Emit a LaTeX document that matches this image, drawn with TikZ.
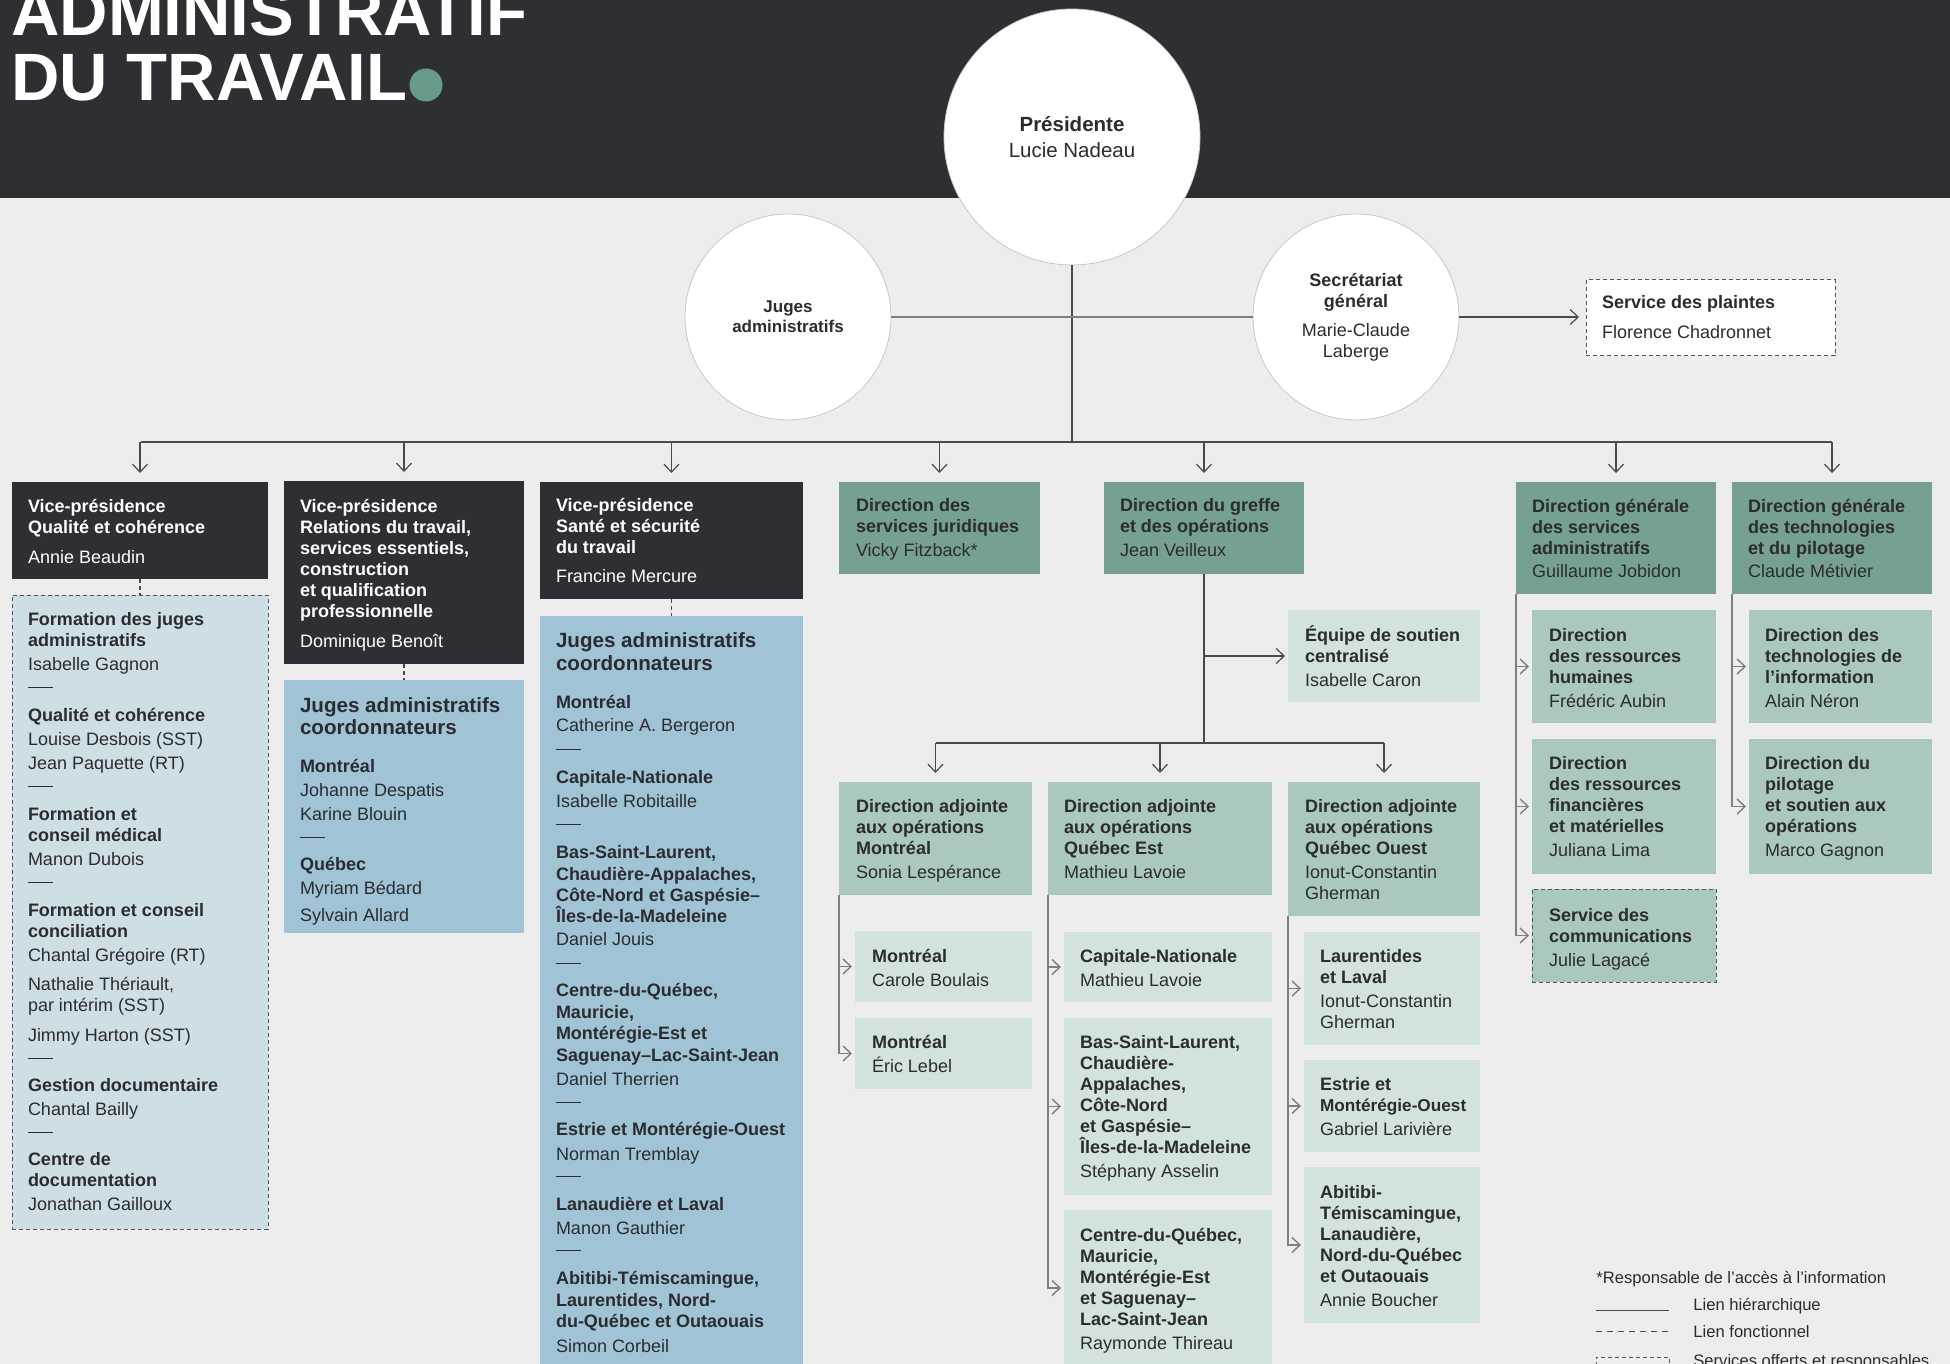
\documentclass[tikz,border=0pt]{standalone}
\usepackage{fontspec}
\setmainfont{Liberation Sans}
\usetikzlibrary{arrows.meta,calc}
\definecolor{hdr}{HTML}{2E2F33}
\definecolor{bg}{HTML}{EDEDED}
\definecolor{dark}{HTML}{2E2F34}
\definecolor{gmid}{HTML}{76A092}
\definecolor{glt}{HTML}{ABC8BE}
\definecolor{gxl}{HTML}{D2E3DD}
\definecolor{bmid}{HTML}{A0C4D6}
\definecolor{blt}{HTML}{CDDEE5}
\definecolor{ink}{HTML}{2B2C30}
\definecolor{dotc}{HTML}{689A8C}
\definecolor{lnc}{HTML}{4A4A4A}
\definecolor{lnb}{HTML}{7F7F7F}
\definecolor{dsc}{HTML}{555555}
\definecolor{circline}{HTML}{C8C8C8}
\newcommand\sk{\\[1.5pt]}
\newcommand\st{\rule{0pt}{8.5pt}}
\newcommand\dl{\rule[3pt]{12.5pt}{0.6pt}}
\newcommand\bx[6]{\node[boxbase,#6,minimum width={(#4-#2)/2},minimum height={(#5-#3)/2}] (#1) at (#2,#3) {};}
\tikzset{
  boxbase/.style={rectangle, inner sep=0pt, outer sep=0pt, anchor=north west},
  dk/.style={fill=dark}, gm/.style={fill=gmid}, gl/.style={fill=glt}, gx/.style={fill=gxl},
  bm/.style={fill=bmid}, bl/.style={fill=blt},
  dsh/.style={draw=dsc, line width=0.5pt, dash pattern=on 2pt off 1.5pt},
  txt/.style={anchor=north west, yshift=8.5pt, align=left, inner sep=0pt, outer sep=0pt, text=ink, font=\fontsize{9}{10.5}\selectfont},
  wtxt/.style={txt, text=white},
  circ/.style={circle, fill=white, draw=circline, line width=0.4pt, inner sep=0pt, align=center, text=ink},
  ln/.style={draw=lnc, line width=0.6pt},
  lnd/.style={ln, dash pattern=on 2pt off 1.5pt},
  arr/.style={ln, -{Straight Barb[length=4pt,width=7.5pt]}, shorten >=4.5pt},
  harr/.style={ln, draw=lnb, line width=0.7pt, -{Straight Barb[length=4pt,width=7.5pt]}, shorten >=1.5pt},
  lg/.style={anchor=base west, inner sep=0pt, text=ink, font=\fontsize{8.3}{10}\selectfont},
  ttl/.style={anchor=base west, inner sep=0pt, text=white, font=\fontsize{33.5}{34}\selectfont\bfseries}
}
\begin{document}
\begin{tikzpicture}[x=0.5pt,y=-0.5pt]
\path[use as bounding box] (0,0) rectangle (1950,1364);
\fill[bg] (0,0) rectangle (1950,1364);
\fill[hdr] (0,0) rectangle (1950,198);

% title
\node[ttl] (t1) at (11,36) {ADMINISTRATIF};
\node[ttl] (t2) at (11,101) {DU TRAVAIL};
\node[circle, fill=dotc, minimum size=16.5pt, inner sep=0pt] (dot) at (426,85) {};

% circles
\node[circ, minimum size=128pt, font=\fontsize{10.25}{13}\selectfont] (pres) at (1072,137) {\textbf{Présidente}\\Lucie Nadeau};
\node[circ, minimum size=103pt, font=\fontsize{8.5}{10}\selectfont] (juges) at (788,317) {\textbf{Juges}\\\textbf{administratifs}};
\node[circ, minimum size=103pt, font=\fontsize{9}{10.5}\selectfont] (sec) at (1356,317) {\textbf{Secrétariat}\\\textbf{général}\\[4pt]Marie-Claude\\Laberge};

% boxes
\bx{vpq}{12}{482}{268}{579}{dk}
\bx{vpr}{284}{481}{524}{664}{dk}
\bx{vps}{540}{482}{803}{599}{dk}
\bx{dsj}{839}{482}{1040}{574}{gm}
\bx{dgo}{1104}{482}{1304}{574}{gm}
\bx{dgs}{1516}{482}{1716}{594}{gm}
\bx{dgt}{1732}{482}{1932}{594}{gm}
\bx{plaintes}{1586}{280}{1835}{356}{dsh, fill=white}
\bx{fjbox}{12}{595}{268}{1229}{bl, dsh}
\bx{jac1}{284}{680}{524}{933}{bm}
\bx{jac2}{540}{616}{803}{1370}{bm}
\bx{equipe}{1288}{610}{1480}{702}{gx}
\bx{dam}{839}{782}{1032}{895}{gl}
\bx{daqe}{1048}{782}{1272}{895}{gl}
\bx{daqo}{1288}{782}{1480}{916}{gl}
\bx{mtla}{855}{931}{1032}{1002}{gx}
\bx{mtlb}{855}{1018}{1032}{1089}{gx}
\bx{capn}{1064}{932}{1272}{1002}{gx}
\bx{bsl}{1064}{1018}{1272}{1195}{gx}
\bx{cdq}{1064}{1210}{1272}{1366}{gx}
\bx{lau}{1304}{932}{1480}{1045}{gx}
\bx{est}{1304}{1060}{1480}{1152}{gx}
\bx{abi}{1304}{1167}{1480}{1323}{gx}
\bx{rh}{1532}{610}{1716}{723}{gl}
\bx{rf}{1532}{739}{1716}{874}{gl}
\bx{sc}{1532}{889}{1716}{982}{gl, dsh}
\bx{ti}{1749}{610}{1932}{723}{gl}
\bx{pil}{1749}{739}{1932}{874}{gl}

% connectors top
\coordinate (busL) at (141,442);
\coordinate (busR) at (1832,442);
\draw[ln] (pres.south) -- (pres.south |- busL);
\draw[ln] (busL) -- (busR);
\draw[ln, draw=lnb, line width=1pt] (juges.east) -- (sec.west);
\foreach \n in {vpq,vpr,vps,dsj,dgo,dgs,dgt} \draw[arr] (\n.north |- busL) -- (\n.north);
\draw[arr, shorten >=3.5pt] (sec.east) -- (sec.east -| plaintes.west);
\draw[lnd] (vpq.south) -- (fjbox.north);
\draw[lnd] (vpr.south) -- (jac1.north);
\draw[lnd] (vps.south) -- (jac2.north);

% greffe
\coordinate (gbus) at (1204,743);
\draw[ln] (dgo.south) -- (dgo.south |- gbus);
\draw[arr, shorten >=1.5pt] (dgo.south |- equipe.west) -- (equipe.west);
\draw[ln] (dam.north |- gbus) -- (daqo.north |- gbus);
\foreach \n in {dam,daqe,daqo} \draw[arr] (\n.north |- gbus) -- (\n.north);

% branches
\foreach \n in {mtla,mtlb} \draw[harr] (dam.south west) |- (\n.west);
\foreach \n in {capn,bsl,cdq} \draw[harr] (daqe.south west) |- (\n.west);
\foreach \n in {lau,est,abi} \draw[harr] (daqo.south west) |- (\n.west);
\foreach \n in {rh,rf,sc} \draw[harr] (dgs.south west) |- (\n.west);
\foreach \n in {ti,pil} \draw[harr] (dgt.south west) |- (\n.west);

% texts
\node[wtxt] (vpq-t) at (28,512) {\st\textbf{Vice-présidence}\\\textbf{Qualité et cohérence}\\[4.5pt]Annie Beaudin};
\node[wtxt] (vpr-t) at (300,512) {\st\textbf{Vice-présidence}\\\textbf{Relations du travail,}\\\textbf{services essentiels,}\\\textbf{construction}\\\textbf{et qualification}\\\textbf{professionnelle}\\[4.5pt]Dominique Benoît};
\node[wtxt] (vps-t) at (556,511) {\st\textbf{Vice-présidence}\\\textbf{Santé et sécurité}\\\textbf{du travail}\\[4pt]Francine Mercure};
\node[txt] (dsj-t) at (856,511) {\st\textbf{Direction des}\\\textbf{services juridiques}\sk Vicky Fitzback*};
\node[txt] (dgo-t) at (1120,511) {\st\textbf{Direction du greffe}\\\textbf{et des opérations}\sk Jean Veilleux};
\node[txt] (dgs-t) at (1532,512) {\st\textbf{Direction générale}\\\textbf{des services}\\\textbf{administratifs}\\[1pt]Guillaume Jobidon};
\node[txt] (dgt-t) at (1748,512) {\st\textbf{Direction générale}\\\textbf{des technologies}\\\textbf{et du pilotage}\\[1pt]Claude Métivier};
\node[txt] (plaintes-t) at (1602,309) {\st\textbf{Service des plaintes}\\[4.5pt]Florence Chadronnet};
\node[txt] (equipe-t) at (1305,641) {\st\textbf{Équipe de soutien}\\\textbf{centralisé}\sk Isabelle Caron};
\node[txt] (dam-t) at (856,812) {\st\textbf{Direction adjointe}\\\textbf{aux opérations}\\\textbf{Montréal}\sk Sonia Lespérance};
\node[txt] (daqe-t) at (1064,812) {\st\textbf{Direction adjointe}\\\textbf{aux opérations}\\\textbf{Québec Est}\sk Mathieu Lavoie};
\node[txt] (daqo-t) at (1305,812) {\st\textbf{Direction adjointe}\\\textbf{aux opérations}\\\textbf{Québec Ouest}\sk Ionut-Constantin\\Gherman};
\node[txt] (mtla-t) at (872,962) {\st\textbf{Montréal}\sk Carole Boulais};
\node[txt] (mtlb-t) at (872,1048) {\st\textbf{Montréal}\sk Éric Lebel};
\node[txt] (capn-t) at (1080,962) {\st\textbf{Capitale-Nationale}\sk Mathieu Lavoie};
\node[txt] (bsl-t) at (1080,1048) {\st\textbf{Bas-Saint-Laurent,}\\\textbf{Chaudière-}\\\textbf{Appalaches,}\\\textbf{Côte-Nord}\\\textbf{et Gaspésie–}\\\textbf{Îles-de-la-Madeleine}\sk Stéphany Asselin};
\node[txt] (cdq-t) at (1080,1241) {\st\textbf{Centre-du-Québec,}\\\textbf{Mauricie,}\\\textbf{Montérégie-Est}\\\textbf{et Saguenay–}\\\textbf{Lac-Saint-Jean}\sk Raymonde Thireau};
\node[txt] (lau-t) at (1320,962) {\st\textbf{Laurentides}\\\textbf{et Laval}\sk Ionut-Constantin\\Gherman};
\node[txt] (est-t) at (1320,1090) {\st\textbf{Estrie et}\\{\fontsize{8.6}{10.5}\selectfont\textbf{Montérégie-Ouest}}\sk Gabriel Larivière};
\node[txt] (abi-t) at (1320,1198) {\st\textbf{Abitibi-}\\\textbf{Témiscamingue,}\\\textbf{Lanaudière,}\\\textbf{Nord-du-Québec}\\\textbf{et Outaouais}\sk Annie Boucher};
\node[txt] (rh-t) at (1549,641) {\st\textbf{Direction}\\\textbf{des ressources}\\\textbf{humaines}\sk Frédéric Aubin};
\node[txt] (ti-t) at (1765,641) {\st\textbf{Direction des}\\\textbf{technologies de}\\\textbf{l’information}\sk Alain Néron};
\node[txt] (rf-t) at (1549,769) {\st\textbf{Direction}\\\textbf{des ressources}\\\textbf{financières}\\\textbf{et matérielles}\sk Juliana Lima};
\node[txt] (pil-t) at (1765,769) {\st\textbf{Direction du}\\\textbf{pilotage}\\\textbf{et soutien aux}\\\textbf{opérations}\sk Marco Gagnon};
\node[txt] (sc-t) at (1549,921) {\st\textbf{Service des}\\\textbf{communications}\sk Julie Lagacé};

\node[txt] (fj-t) at (28,625) {\st\textbf{Formation des juges}\\\textbf{administratifs}\sk Isabelle Gagnon\sk\dl\\[3pt]%
\textbf{Qualité et cohérence}\sk Louise Desbois (SST)\sk Jean Paquette (RT)\sk\dl\\[3pt]%
\textbf{Formation et}\\\textbf{conseil médical}\sk Manon Dubois\sk\dl\\[3pt]%
\textbf{Formation et conseil}\\\textbf{conciliation}\sk Chantal Grégoire (RT)\\[4pt]Nathalie Thériault,\\par intérim (SST)\\[4.5pt]Jimmy Harton (SST)\sk\dl\\[2.5pt]%
\textbf{Gestion documentaire}\sk Chantal Bailly\sk\dl\\[2.5pt]%
\textbf{Centre de}\\\textbf{documentation}\sk Jonathan Gailloux};

\node[txt] (jac1-t) at (300,712) {\st{\fontsize{10.3}{11}\selectfont\textbf{Juges administratifs}}\\[0.5pt]{\fontsize{10.3}{11}\selectfont\textbf{coordonnateurs}}\\[8.5pt]%
\textbf{Montréal}\sk Johanne Despatis\sk Karine Blouin\sk\dl\\[2.5pt]%
\textbf{Québec}\sk Myriam Bédard\\[3pt]Sylvain Allard};

\node[txt] (jac2-t) at (556,647) {\st{\fontsize{10.3}{11}\selectfont\textbf{Juges administratifs}}\\[1pt]{\fontsize{10.3}{11}\selectfont\textbf{coordonnateurs}}\\[8.5pt]%
\textbf{Montréal}\\[1pt]Catherine A. Bergeron\\[2pt]\dl\\[3pt]%
\textbf{Capitale-Nationale}\sk Isabelle Robitaille\sk\dl\\[3pt]%
\textbf{Bas-Saint-Laurent,}\\[0.5pt]\textbf{Chaudière-Appalaches,}\\\textbf{Côte-Nord et Gaspésie–}\\\textbf{Îles-de-la-Madeleine}\\[1pt]Daniel Jouis\\[2pt]\dl\\[2.5pt]%
\textbf{Centre-du-Québec,}\\[0.5pt]\textbf{Mauricie,}\\\textbf{Montérégie-Est et}\\[0.5pt]\textbf{Saguenay–Lac-Saint-Jean}\sk Daniel Therrien\sk\dl\\[2.5pt]%
\textbf{Estrie et Montérégie-Ouest}\\[2pt]Norman Tremblay\\[1pt]\dl\\[3pt]%
\textbf{Lanaudière et Laval}\sk Manon Gauthier\\[1pt]\dl\\[3pt]%
\textbf{Abitibi-Témiscamingue,}\\[0.5pt]\textbf{Laurentides, Nord-}\\\textbf{du-Québec et Outaouais}\\[2pt]Simon Corbeil};

% legend
\node[lg] (note) at (1596,1283) {*Responsable de l’accès à l’information};
\coordinate (la1) at (1596,1310); \coordinate (lb1) at (1669,1310);
\draw[ln, line width=0.5pt] (la1) -- (lb1);
\node[lg] (lt1) at (1693,1310) {Lien hiérarchique};
\coordinate (la2) at (1596,1331); \coordinate (lb2) at (1669,1331);
\draw[ln, line width=0.5pt, dash pattern=on 3pt off 2.5pt] (la2) -- (lb2);
\node[lg] (lt2) at (1693,1337) {Lien fonctionnel};
\bx{lbox}{1596}{1357}{1669}{1395}{dsh}
\node[lg] (lt3) at (1693,1366) {Services offerts et responsables};
\end{tikzpicture}
\end{document}
